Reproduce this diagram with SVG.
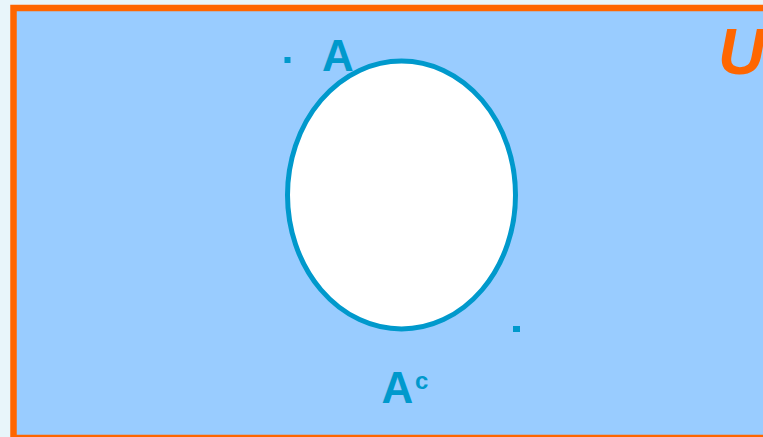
<svg xmlns="http://www.w3.org/2000/svg" width="763" height="437" viewBox="0 0 763 437">
<style>
.lbl{font-family:"Liberation Sans",Arial,sans-serif;font-weight:bold;fill:#0099CC}
</style>
<rect x="0" y="0" width="763" height="437" fill="#E8F5FA"/>
<g id="universe">
<rect x="13.5" y="8" width="800" height="430" fill="#99CCFF" stroke="#FF6600" stroke-width="6.5"/>
<text x="718" y="74" font-family="Liberation Sans,Arial,sans-serif" font-weight="bold" font-style="italic" font-size="65" fill="#FF6600">U</text>
</g>
<g id="setA">
<ellipse cx="401.5" cy="195" rx="114" ry="134" fill="#FFFFFF" stroke="#0099CC" stroke-width="5"/>
<rect x="284.5" y="57" width="6" height="6" fill="#0099CC"/>
<text class="lbl" x="322" y="71" font-size="44">A</text>
</g>
<g id="complement">
<rect x="513" y="326" width="7" height="6" fill="#0099CC"/>
<text class="lbl" x="381.5" y="403" font-size="44">A</text>
<text class="lbl" x="415" y="389" font-size="24">c</text>
</g>
</svg>
